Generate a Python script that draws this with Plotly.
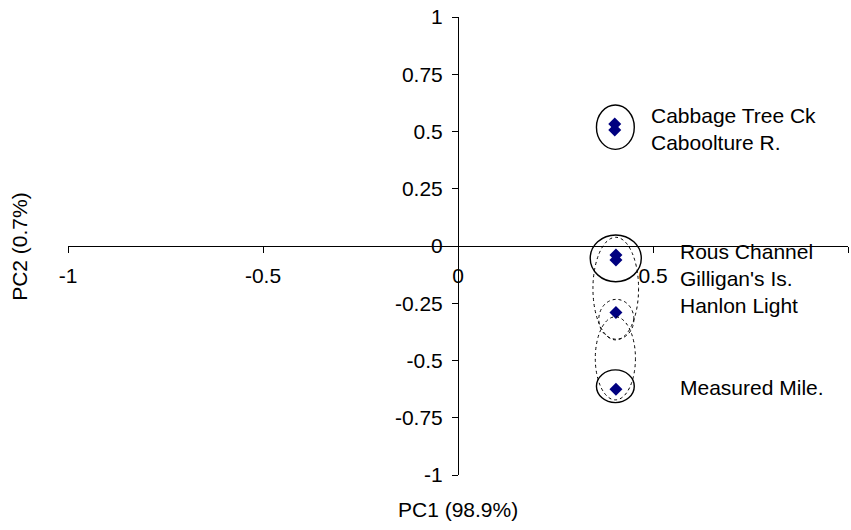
import plotly.graph_objects as go

sites = ["Cabbage Tree Ck", "Caboolture R.", "Rous Channel", "Gilligan's Is.", "Hanlon Light", "Measured Mile."]
pc1 = [0.402, 0.402, 0.405, 0.405, 0.405, 0.405]
pc2 = [0.533, 0.507, -0.039, -0.061, -0.29, -0.625]

label_x = [0.49, 0.49, 0.564, 0.564, 0.564, 0.564]
label_y = [0.572, 0.45, -0.022, -0.14, -0.258, -0.62]

x_ticks = [-1, -0.5, 0, 0.5, 1]
y_ticks = [-1, -0.75, -0.5, -0.25, 0, 0.25, 0.5, 0.75, 1]

# ellipses: (x0, x1, y0, y1, dash)
ellipses = [
    (0.355, 0.452, 0.422, 0.616, "solid"),
    (0.339, 0.470, -0.156, 0.048, "solid"),
    (0.346, 0.463, -0.410, 0.038, "dot"),
    (0.361, 0.451, -0.407, -0.233, "dot"),
    (0.352, 0.455, -0.672, -0.309, "dot"),
    (0.355, 0.452, -0.684, -0.541, "solid"),
]

FONT = "Liberation Sans, Arial, sans-serif"
FS = 21

fig = go.Figure()
fig.add_trace(go.Scatter(
    x=pc1, y=pc2, mode="markers",
    marker=dict(symbol="diamond", size=10, color="#000080"),
    text=sites, hoverinfo="text", showlegend=False,
))

shapes = []
for x0, x1, y0, y1, dash in ellipses:
    shapes.append(dict(type="circle", xref="x", yref="y", x0=x0, x1=x1, y0=y0, y1=y1,
                       line=dict(color="black", width=1.4 if dash == "solid" else 1.0, dash=dash),
                       layer="above"))

annotations = []
for s, lx, ly in zip(sites, label_x, label_y):
    annotations.append(dict(x=lx, y=ly, xref="x", yref="y", text=s, showarrow=False,
                            xanchor="left", yanchor="middle",
                            font=dict(family=FONT, size=FS, color="black")))
annotations.append(dict(x=0.5, y=-0.076, xref="paper", yref="paper", text="PC1 (98.9%)",
                        showarrow=False, xanchor="center", yanchor="middle",
                        font=dict(family=FONT, size=21, color="black")))
annotations.append(dict(x=-0.063, y=0.5, xref="paper", yref="paper", text="PC2 (0.7%)",
                        showarrow=False, textangle=-90, xanchor="center", yanchor="middle",
                        font=dict(family=FONT, size=21, color="black")))

fig.update_layout(
    width=851, height=530,
    margin=dict(l=68, r=3, t=17, b=55, autoexpand=False),
    paper_bgcolor="white", plot_bgcolor="white",
    font=dict(family=FONT, size=FS, color="black"),
    shapes=shapes, annotations=annotations,
    xaxis=dict(range=[-1, 1], tickvals=x_ticks, ticktext=[str(v) for v in x_ticks],
               anchor="free", position=0.5, showline=True, linecolor="black", linewidth=1,
               ticks="outside", ticklen=6, tickcolor="black", showgrid=False, zeroline=False,
               automargin=False, ticklabelstandoff=5, tickfont=dict(family=FONT, size=FS)),
    yaxis=dict(range=[-1, 1], tickvals=y_ticks, ticktext=[f"{v:g}" for v in y_ticks],
               anchor="free", position=0.5, showline=True, linecolor="black", linewidth=1,
               ticks="outside", ticklen=6, tickcolor="black", showgrid=False, zeroline=False,
               automargin=False, ticklabelstandoff=5, tickfont=dict(family=FONT, size=FS)),
)

fig.write_html("out.html")
